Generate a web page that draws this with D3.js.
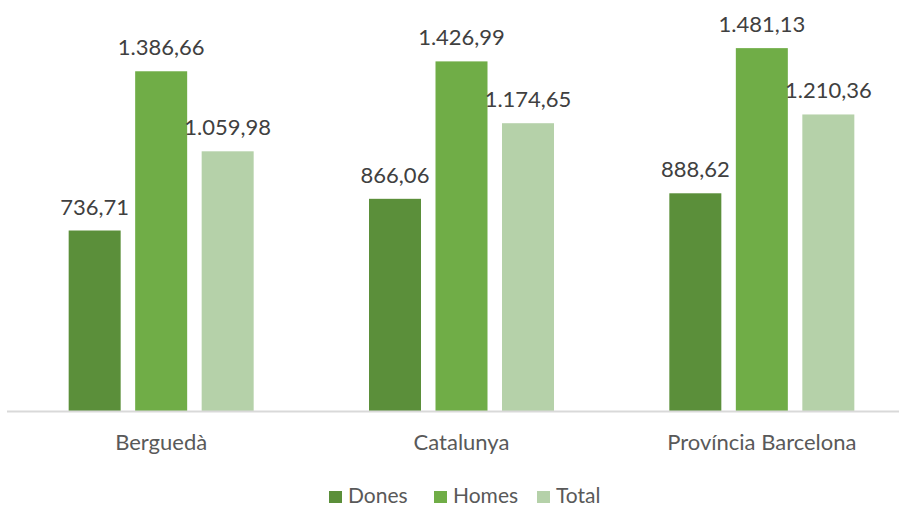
<!DOCTYPE html>
<html>
<head>
<meta charset="utf-8">
<script src="https://cdn.jsdelivr.net/npm/d3@7"></script>
<style>
  html, body { margin: 0; padding: 0; background: #fff; }
  svg { display: block; }
  text { font-family: Lato, 'Open Sans', sans-serif; fill: #404040; }
</style>
</head>
<body>
<svg id="chart" width="899" height="507"></svg>
<script>
const categories = ["Berguedà", "Catalunya", "Província Barcelona"];
const seriesNames = ["Dones", "Homes", "Total"];
const dones = [736.71, 866.06, 888.62];
const homes = [1386.66, 1426.99, 1481.13];
const total = [1059.98, 1174.65, 1210.36];
const colors = ["#5B8F3A", "#70AD47", "#B5D1A9"];

const seriesValues = [dones, homes, total];
const fmt = v => {
  const s = v.toFixed(2).split(".");
  return s[0].replace(/\B(?=(\d{3})+(?!\d))/g, ".") + "," + s[1];
};

const svg = d3.select("#chart");
const x0 = d3.scaleBand().domain(categories).range([11, 912]).paddingInner(0).paddingOuter(0);
const groupW = 52 * 3 + 14.5 * 2;
const x1 = d3.scaleBand().domain(seriesNames).range([0, groupW]).paddingInner(14.5 / 66.5).paddingOuter(0);
const y = d3.scaleLinear().domain([0, 1600]).range([411, 19]);

const g = svg.append("g");
categories.forEach((c, i) => {
  const gx = x0(c) + (x0.bandwidth() - groupW) / 2;
  seriesNames.forEach((s, j) => {
    const v = seriesValues[j][i];
    g.append("rect")
      .attr("x", gx + x1(s))
      .attr("y", y(v))
      .attr("width", x1.bandwidth())
      .attr("height", y(0) - y(v))
      .attr("fill", colors[j]);
    g.append("text")
      .attr("x", gx + x1(s) + x1.bandwidth() / 2)
      .attr("y", y(v) - 16)
      .attr("text-anchor", "middle")
      .style("font-size", "22px")
      .text(fmt(v));
  });
});

// axis line
svg.append("line")
  .attr("x1", 7).attr("x2", 899)
  .attr("y1", 411.5).attr("y2", 411.5)
  .attr("stroke", "#d9d9d9").attr("stroke-width", 2);

const xAxis = d3.axisBottom(x0).tickSize(0).tickPadding(0);
const ax = svg.append("g").attr("transform", "translate(0,450)").call(xAxis);
ax.select(".domain").remove();
ax.selectAll("text")
  .attr("dy", "0")
  .style("font-size", "22px")
  .style("fill", "#595959")
  .style("font-family", "Lato, 'Open Sans', sans-serif");

// legend
const legendX = [329, 434, 537];
const leg = svg.append("g");
seriesNames.forEach((s, j) => {
  leg.append("rect").attr("x", legendX[j]).attr("y", 491).attr("width", 13).attr("height", 12).attr("fill", colors[j]);
  leg.append("text").attr("x", legendX[j] + 19).attr("y", 503).style("font-size", "21px").style("fill", "#595959").text(s);
});
</script>
</body>
</html>
